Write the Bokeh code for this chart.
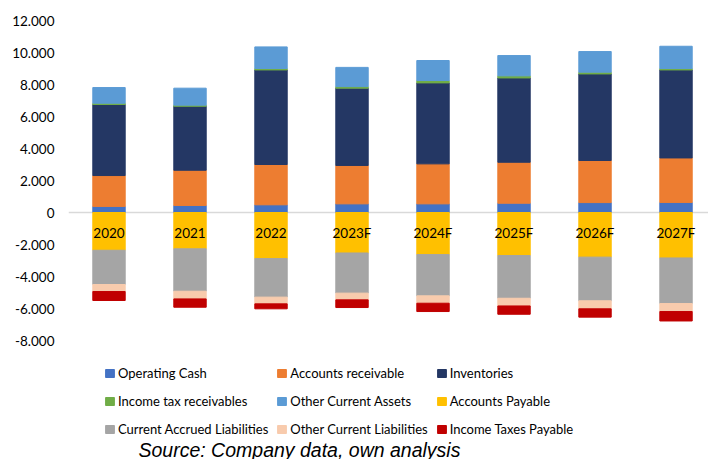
from bokeh.plotting import figure
from bokeh.models import ColumnDataSource, Range1d, FixedTicker, Legend, LegendItem, Label, Span
from bokeh.core.properties import value
from bokeh.embed import file_html
from bokeh.resources import INLINE

categories = ["2020", "2021", "2022", "2023F", "2024F", "2025F", "2026F", "2027F"]

operating_cash = [380, 440, 480, 540, 540, 580, 620, 630]
accounts_receivable = [1930, 2200, 2520, 2400, 2500, 2560, 2630, 2780]
inventories = [4440, 4000, 5910, 4830, 5060, 5270, 5410, 5500]
income_tax_receivables = [80, 70, 90, 100, 150, 130, 110, 90]
other_current_assets = [980, 1060, 1350, 1200, 1250, 1270, 1290, 1390]

accounts_payable = [-2360, -2270, -2880, -2530, -2630, -2690, -2790, -2840]
current_accrued_liabilities = [-2140, -2650, -2410, -2510, -2580, -2670, -2730, -2850]
other_current_liabilities = [-440, -480, -420, -420, -460, -480, -500, -500]
income_taxes_payable = [-560, -520, -310, -480, -520, -520, -520, -590]

y_ticks = [-8000, -6000, -4000, -2000, 0, 2000, 4000, 6000, 8000, 10000, 12000]
y_tick_labels = ["-8.000", "-6.000", "-4.000", "-2.000", "0", "2.000", "4.000",
                 "6.000", "8.000", "10.000", "12.000"]

pos_names = ["Operating Cash", "Accounts receivable", "Inventories",
             "Income tax receivables", "Other Current Assets"]
neg_names = ["Accounts Payable", "Current Accrued Liabilities",
             "Other Current Liabilities", "Income Taxes Payable"]
pos_keys = ["oc", "ar", "inv", "itr", "oca"]
neg_keys = ["ap", "cal", "ocl", "itp"]
pos_colors = ["#4472C4", "#ED7D31", "#243764", "#70AD47", "#5B9BD5"]
neg_colors = ["#FFC000", "#A5A5A5", "#F8CBAD", "#C00000"]

src = ColumnDataSource(dict(
    x=list(range(len(categories))), cat=categories,
    oc=operating_cash, ar=accounts_receivable, inv=inventories,
    itr=income_tax_receivables, oca=other_current_assets,
    ap=accounts_payable, cal=current_accrued_liabilities,
    ocl=other_current_liabilities, itp=income_taxes_payable,
))

# frame: x 68..708 (81 px per category), y 20..459 (16 px per 1000);
# the area below -8.000 holds the legend and the source note
p = figure(width=708, height=459, output_backend="svg", toolbar_location=None,
           x_range=Range1d(-0.5, 7.401), y_range=Range1d(-15437.5, 12000),
           min_border_left=68, min_border_right=0, min_border_top=20,
           min_border_bottom=0)
p.outline_line_color = None
p.grid.visible = False
p.xaxis.visible = False

p.add_layout(Span(location=0, dimension="width", line_color="#D9D9D9",
                  line_width=1.5, level="underlay"))

r_pos = p.vbar_stack(pos_keys, x="x", width=0.4, source=src, color=pos_colors)
r_neg = p.vbar_stack(neg_keys, x="x", width=0.4, source=src, color=neg_colors)

p.text(x="x", y=0, text="cat", source=src, text_align="center",
       text_baseline="middle", y_offset=20, text_font=value("Lato"),
       text_font_size="13.5px", text_color="black")

ax = p.yaxis[0]
ax.ticker = FixedTicker(ticks=y_ticks)
ax.major_label_overrides = {t: l for t, l in zip(y_ticks, y_tick_labels)}
ax.axis_line_color = None
ax.major_tick_out = 0
ax.major_tick_in = 0
ax.minor_tick_out = 0
ax.minor_tick_in = 0
ax.major_label_standoff = 14
ax.major_label_text_font = "Lato"
ax.major_label_text_font_size = "13.5px"
ax.major_label_text_color = "black"

all_names = pos_names + neg_names
all_renderers = list(r_pos) + list(r_neg)
# legend fills column by column: order items so rows read as in the reference
ncols, nrows = 3, 3
order = [r * ncols + c for c in range(ncols) for r in range(nrows)]
items = [LegendItem(label=all_names[i], renderers=[all_renderers[i]]) for i in order]
legend = Legend(items=items, ncols=ncols, location=(36, 20),
                glyph_width=11, glyph_height=10, label_standoff=3,
                label_height=20,
                label_text_font="Lato", label_text_font_size="13px",
                label_text_color="black", spacing=8, padding=0, margin=0,
                border_line_color=None, background_fill_alpha=0)
p.add_layout(legend)

p.add_layout(Label(x=70, y=-1, x_units="screen", y_units="screen",
                   text="Source: Company data, own analysis",
                   text_baseline="bottom",
                   text_font="Liberation Sans", text_font_style="italic",
                   text_font_size="19.5px", text_color="black"))

open("out.html", "w").write(file_html(p, INLINE))
